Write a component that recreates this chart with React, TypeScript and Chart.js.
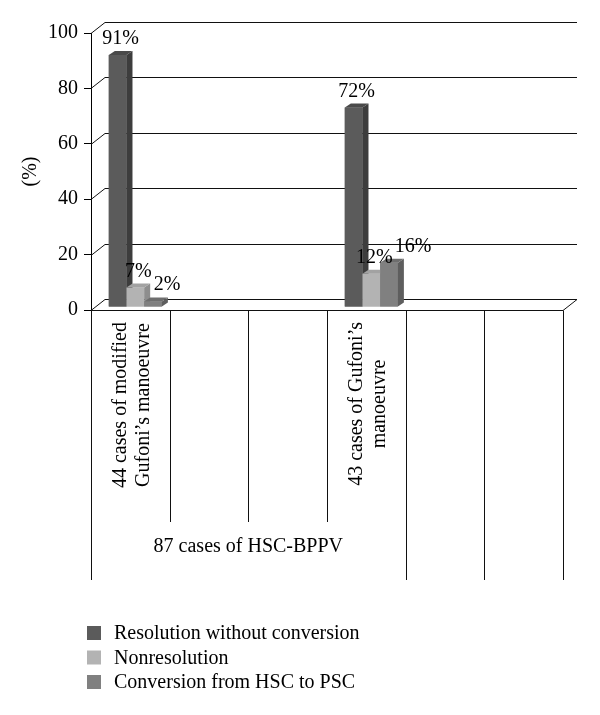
import React, { useEffect, useRef } from "react";
import { Chart, registerables } from "chart.js";

Chart.register(...registerables);

// ---- data ----
const categories: (string | string[])[] = [
  ["44 cases of modified", "Gufoni’s manoeuvre"],
  "",
  "",
  ["43 cases of Gufoni’s", "manoeuvre"],
  "",
  "",
];
const groupLabels = ["87 cases of HSC-BPPV", "", ""];
const groupSpans = [4, 1, 1];
const seriesNames = ["Resolution without conversion", "Nonresolution", "Conversion from HSC to PSC"];
const resolution = [91, null, null, 72, null, null];
const nonresolution = [7, null, null, 12, null, null];
const conversion = [2, null, null, 16, null, null];
const yMin = 0;
const yMax = 100;
const yStep = 20;
const yTitle = "(%)";

// ---- styles ----
const FONT = "'Liberation Serif', 'Times New Roman', serif";
const FONT_SIZE = 20;
const frontColors = ["#5b5b5b", "#b3b3b3", "#808080"];
const sideColors = ["#3d3d3d", "#8e8e8e", "#5e5e5e"];
const topColors = ["#4a4a4a", "#a2a2a2", "#6e6e6e"];
const WALL_DX = 14;
const WALL_DY = -11;
const SHIFT_X = 5;
const SHIFT_Y = -3;
const DEPTH_DX = 6;
const DEPTH_DY = -4;
const LABEL_TOP = 322;
const SHORT_END = 522;
const LONG_END = 580;
const GROUP_Y = 547;
const LEGEND_X = 87;
const LEGEND_Y0 = 633;
const LEGEND_DY = 24.5;

const excel3d = {
  id: "excel3d",
  beforeDatasetsDraw(chart: any) {
    const { ctx, chartArea, scales } = chart;
    const { left, right, bottom } = chartArea;
    const y = scales.y;
    const x = scales.x;
    ctx.save();
    ctx.strokeStyle = "#111";
    ctx.lineWidth = 1;
    ctx.beginPath();
    y.ticks.forEach((t: any) => {
      const py = Math.round(y.getPixelForValue(t.value)) + 0.5;
      ctx.moveTo(left, py);
      ctx.lineTo(left + WALL_DX, py + WALL_DY);
      ctx.lineTo(right + WALL_DX, py + WALL_DY);
    });
    const pb = Math.round(bottom) + 0.5;
    ctx.moveTo(left, pb);
    ctx.lineTo(right, pb);
    ctx.lineTo(right + WALL_DX, pb + WALL_DY);
    ctx.stroke();

    // category separators (multi-level axis)
    const catW = x.getPixelForValue(1) - x.getPixelForValue(0);
    const groupBounds: number[] = [0];
    groupSpans.reduce((acc, s) => {
      groupBounds.push(acc + s);
      return acc + s;
    }, 0);
    ctx.beginPath();
    for (let b = 0; b <= categories.length; b++) {
      const xb = Math.round(x.getPixelForValue(0) - catW / 2 + b * catW) + 0.5;
      const end = groupBounds.includes(b) ? LONG_END : SHORT_END;
      ctx.moveTo(xb, pb);
      ctx.lineTo(xb, end);
    }
    ctx.stroke();
    ctx.restore();

    ctx.save();
    ctx.translate(SHIFT_X, SHIFT_Y);
  },
  afterDatasetsDraw(chart: any) {
    const { ctx } = chart;
    const n = chart.data.labels.length;
    const metas = chart.data.datasets.map((_: any, i: number) => chart.getDatasetMeta(i));
    for (let j = 0; j < n; j++) {
      metas.forEach((meta: any, i: number) => {
        const v = chart.data.datasets[i].data[j];
        if (v === null || v === undefined) return;
        const el = meta.data[j];
        const { x, y, base, width } = el.getProps(["x", "y", "base", "width"], true);
        const xl = x - width / 2;
        const xr = x + width / 2;
        ctx.fillStyle = frontColors[i];
        ctx.fillRect(xl, y, width, base - y);
        ctx.fillStyle = sideColors[i];
        ctx.beginPath();
        ctx.moveTo(xr, y);
        ctx.lineTo(xr + DEPTH_DX, y + DEPTH_DY);
        ctx.lineTo(xr + DEPTH_DX, base + DEPTH_DY);
        ctx.lineTo(xr, base);
        ctx.closePath();
        ctx.fill();
        ctx.fillStyle = topColors[i];
        ctx.beginPath();
        ctx.moveTo(xl, y);
        ctx.lineTo(xl + DEPTH_DX, y + DEPTH_DY);
        ctx.lineTo(xr + DEPTH_DX, y + DEPTH_DY);
        ctx.lineTo(xr, y);
        ctx.closePath();
        ctx.fill();
      });
    }
    // data labels (shifted right when they collide with the previous label)
    ctx.fillStyle = "#000";
    ctx.font = `${FONT_SIZE}px ${FONT}`;
    ctx.textAlign = "left";
    ctx.textBaseline = "alphabetic";
    const capH = FONT_SIZE * 0.7;
    for (let j = 0; j < n; j++) {
      let prev: { l: number; r: number; t: number; b: number } | null = null;
      metas.forEach((meta: any, i: number) => {
        const v = chart.data.datasets[i].data[j];
        if (v === null || v === undefined) return;
        const el = meta.data[j];
        const { x, y } = el.getProps(["x", "y"], true);
        const text = `${v}%`;
        const w = ctx.measureText(text).width;
        let lx = x + DEPTH_DX / 2 - w / 2;
        const by = y - 11;
        const box = { l: lx, r: lx + w, t: by - capH, b: by };
        if (prev && box.l < prev.r && box.t < prev.b && box.b > prev.t) {
          lx = prev.r + 2;
          box.l = lx;
          box.r = lx + w;
        }
        ctx.fillText(text, lx, by);
        prev = box;
      });
    }
    ctx.restore();
  },
  afterDraw(chart: any) {
    const { ctx, scales } = chart;
    const x = scales.x;
    const catW = x.getPixelForValue(1) - x.getPixelForValue(0);
    ctx.save();
    ctx.fillStyle = "#000";
    ctx.font = `${FONT_SIZE}px ${FONT}`;
    // category labels (rotated)
    categories.forEach((lab, i) => {
      const lines = Array.isArray(lab) ? lab : [lab];
      if (lines.every((l) => !l)) return;
      const maxW = Math.max(...lines.map((l) => ctx.measureText(l).width));
      const cx = x.getPixelForValue(i) + 2;
      const cy = LABEL_TOP + maxW / 2;
      ctx.save();
      ctx.translate(cx, cy);
      ctx.rotate(-Math.PI / 2);
      ctx.textAlign = "center";
      ctx.textBaseline = "middle";
      lines.forEach((l, k) => {
        ctx.fillText(l, 0, (k - (lines.length - 1) / 2) * 23);
      });
      ctx.restore();
    });
    // group labels
    let start = 0;
    groupSpans.forEach((span, g) => {
      const x0 = x.getPixelForValue(start) - catW / 2;
      const x1 = x.getPixelForValue(start + span - 1) + catW / 2;
      if (groupLabels[g]) {
        ctx.textAlign = "center";
        ctx.textBaseline = "middle";
        ctx.fillText(groupLabels[g], (x0 + x1) / 2, GROUP_Y);
      }
      start += span;
    });
    // legend
    chart.data.datasets.forEach((ds: any, i: number) => {
      const cy = LEGEND_Y0 + i * LEGEND_DY;
      ctx.fillStyle = ds.backgroundColor;
      ctx.fillRect(LEGEND_X, cy - 7, 14, 14);
      ctx.fillStyle = "#000";
      ctx.textAlign = "left";
      ctx.textBaseline = "middle";
      ctx.fillText(ds.label, LEGEND_X + 27, cy + 1);
    });
    ctx.restore();
  },
};

export default function App() {
  const ref = useRef<HTMLCanvasElement>(null);
  useEffect(() => {
    if (!ref.current) return;
    const chart = new Chart(ref.current, {
      type: "bar",
      data: {
        labels: categories as any,
        datasets: [
          { label: seriesNames[0], data: resolution as any, backgroundColor: frontColors[0] },
          { label: seriesNames[1], data: nonresolution as any, backgroundColor: frontColors[1] },
          { label: seriesNames[2], data: conversion as any, backgroundColor: frontColors[2] },
        ],
      },
      options: {
        animation: false,
        responsive: false,
        layout: { padding: { left: 0, top: 33, right: 37, bottom: 405 } },
        datasets: { bar: { categoryPercentage: 0.675, barPercentage: 1, borderWidth: 0 } } as any,
        plugins: { legend: { display: false }, tooltip: { enabled: false } },
        scales: {
          x: { display: false, grid: { display: false } },
          y: {
            min: yMin,
            max: yMax,
            afterFit: (scale: any) => {
              scale.width = 91;
            },
            ticks: {
              stepSize: yStep,
              color: "#000",
              padding: 6,
              font: { family: FONT, size: FONT_SIZE },
            },
            grid: {
              display: true,
              drawOnChartArea: false,
              drawTicks: true,
              tickLength: 7,
              tickColor: "#000",
            },
            border: { display: true, color: "#000", width: 1 },
            title: {
              display: true,
              text: yTitle,
              color: "#000",
              font: { family: FONT, size: FONT_SIZE, lineHeight: 1.2 },
              padding: { top: 19, bottom: 0 },
            },
          },
        },
      },
      plugins: [excel3d],
    });
    return () => chart.destroy();
  }, []);
  return (
    <div style={{ position: "fixed", left: 0, top: 0, width: 600, height: 715, background: "#fff" }}>
      <canvas ref={ref} width={600} height={715} style={{ display: "block" }} />
    </div>
  );
}
